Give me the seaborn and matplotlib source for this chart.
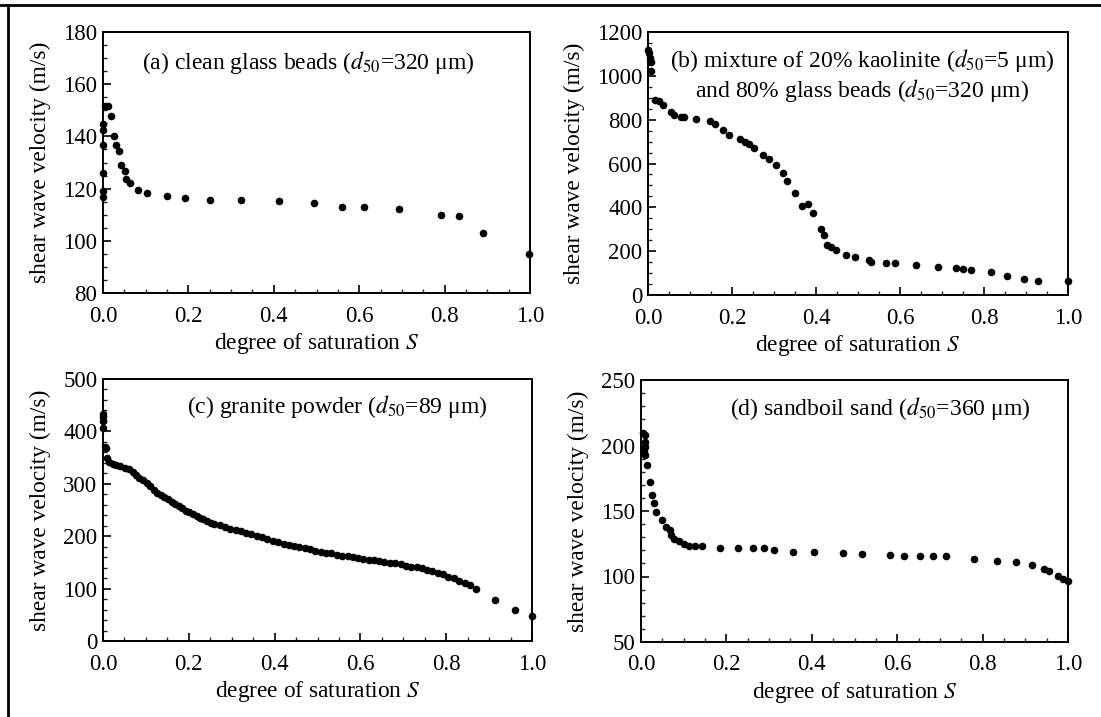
import numpy as np
import pandas as pd
import matplotlib
matplotlib.use("Agg")
import matplotlib.pyplot as plt
from matplotlib.ticker import MultipleLocator, FormatStrFormatter
from matplotlib.lines import Line2D
import seaborn as sns

# ---------------- data ----------------
# (a) clean glass beads
a_S = [0.0, 0.0, 0.0, 0.0, 0.0, 0.0, 0.005, 0.011, 0.018, 0.026, 0.030, 0.038, 0.042,
       0.051, 0.054, 0.063, 0.083, 0.103, 0.150, 0.193, 0.250, 0.323, 0.412, 0.493,
       0.559, 0.611, 0.694, 0.791, 0.833, 0.891, 0.998]
a_V = [144.9, 142.6, 136.6, 126.0, 119.2, 116.7, 151.5, 151.5, 147.9, 140.3, 136.6, 134.3,
       128.9, 126.6, 123.8, 122.3, 119.3, 118.2, 117.0, 116.3, 115.8, 115.8, 115.1, 114.6,
       112.9, 112.9, 112.3, 110.0, 109.5, 102.9, 95.1]

# (b) 20% kaolinite + 80% glass beads
b_S = [0.0, 0.002, 0.004, 0.006, 0.008, 0.016, 0.027, 0.036, 0.055, 0.061, 0.078, 0.085,
       0.114, 0.147, 0.159, 0.179, 0.193, 0.219, 0.230, 0.240, 0.253, 0.274, 0.287, 0.304,
       0.321, 0.331, 0.351, 0.366, 0.382, 0.394, 0.411, 0.419, 0.426, 0.436, 0.447, 0.472,
       0.494, 0.526, 0.532, 0.566, 0.587, 0.638, 0.690, 0.734, 0.751, 0.768, 0.817, 0.855,
       0.896, 0.928, 1.0]
b_V = [1119, 1103, 1081, 1065, 1020, 891, 883, 868, 833, 822, 812, 810, 804, 796, 781, 754,
       731, 711, 700, 688, 670, 640, 621, 591, 556, 521, 464, 408, 416, 373, 300, 274, 228,
       218, 206, 183, 172, 160, 152, 148, 145, 137, 129, 125, 120, 114, 104, 87, 73, 64, 65]

# (c) granite powder
c_S = [0.0, 0.0, 0.0, 0.001, 0.005, 0.008, 0.009, 0.015, 0.023, 0.031, 0.040, 0.052, 0.060,
       0.069, 0.077, 0.085, 0.094, 0.102, 0.110, 0.118, 0.127, 0.135, 0.143, 0.151, 0.160,
       0.168, 0.176, 0.185, 0.193, 0.201, 0.209, 0.218, 0.226, 0.234, 0.243, 0.251, 0.259,
       0.272, 0.284, 0.296, 0.309, 0.321, 0.334, 0.346, 0.358, 0.371, 0.383, 0.396, 0.408,
       0.421, 0.433, 0.445, 0.458, 0.470, 0.483, 0.495, 0.507, 0.520, 0.532, 0.545, 0.557,
       0.570, 0.582, 0.594, 0.607, 0.619, 0.632, 0.644, 0.656, 0.669, 0.681, 0.694, 0.706,
       0.719, 0.731, 0.743, 0.756, 0.768, 0.781, 0.793, 0.805, 0.818, 0.830, 0.843, 0.855,
       0.869, 0.913, 0.960, 1.0]
c_V = [434, 428, 420, 406, 371, 368, 349, 342, 338, 335, 334, 331, 328, 323, 317, 312, 307,
       302, 296, 289, 283, 279, 274, 271, 266, 261, 258, 253, 249, 246, 242, 239, 235, 232,
       229, 226, 224, 221, 218, 214, 211, 209, 206, 204, 201, 198, 195, 191, 189, 186, 184,
       181, 179, 177, 175, 172, 170, 168, 167, 165, 163, 162, 160, 158, 156, 155, 154, 152,
       151, 149, 148, 146, 144, 142, 141, 139, 136, 133, 130, 127, 123, 120, 115, 111, 106,
       99, 78, 60, 48]

# (d) sandboil sand
d_S = [0.004, 0.010, 0.010, 0.010, 0.008, 0.010, 0.013, 0.021, 0.025, 0.031, 0.036, 0.049,
       0.059, 0.067, 0.071, 0.078, 0.088, 0.101, 0.113, 0.126, 0.143, 0.184, 0.226, 0.262,
       0.288, 0.312, 0.356, 0.404, 0.474, 0.518, 0.583, 0.616, 0.654, 0.683, 0.714, 0.780,
       0.834, 0.878, 0.915, 0.943, 0.956, 0.977, 0.989, 1.0]
d_V = [209.3, 208.0, 203.0, 199.0, 196.0, 193.0, 185.0, 172.5, 162.3, 156.0, 149.0, 143.0,
       138.0, 135.6, 132.0, 129.0, 127.0, 124.7, 123.4, 123.0, 123.0, 122.0, 122.0, 121.5,
       121.5, 120.4, 119.0, 119.0, 117.8, 117.0, 116.5, 116.0, 116.0, 115.5, 115.5, 113.0,
       112.0, 110.8, 108.8, 106.0, 103.9, 100.6, 98.0, 96.3]

titles = [
    "(a) clean glass beads ($d_{50}$=320 \u03bcm)",
    "(b) mixture of 20% kaolinite ($d_{50}$=5 \u03bcm)\nand 80% glass beads ($d_{50}$=320 \u03bcm)",
    "(c) granite powder ($d_{50}$=89 \u03bcm)",
    "(d) sandboil sand ($d_{50}$=360 \u03bcm)",
]
y_limits = [(80, 180), (0, 1200), (0, 500), (50, 250)]
y_major = [20, 200, 100, 50]
y_minor = [5, 50, 20, 10]
x_label = "degree of saturation $S$"
y_label = "shear wave velocity (m/s)"

# ---------------- style ----------------
sns.set_theme(style="ticks")
plt.rcParams["font.family"] = ["Liberation Serif", "DejaVu Serif"]
plt.rcParams["mathtext.fontset"] = "stix"
plt.rcParams["axes.edgecolor"] = "black"
plt.rcParams["axes.linewidth"] = 1.4

fig = plt.figure(figsize=(11.01, 7.17), dpi=100)
fig.patch.set_facecolor("white")

rects = [
    (103 / 1101, 1 - 293 / 717, 427 / 1101, 261 / 717),
    (648 / 1101, 1 - 295 / 717, 420 / 1101, 263 / 717),
    (103 / 1101, 1 - 641 / 717, 429 / 1101, 262 / 717),
    (641 / 1101, 1 - 642 / 717, 427 / 1101, 262 / 717),
]
title_pos = [(0.48, 0.885), (0.51, 0.835), (0.545, 0.895), (0.56, 0.89)]

datasets = [(a_S, a_V), (b_S, b_V), (c_S, c_V), (d_S, d_V)]

for i, (S, V) in enumerate(datasets):
    ax = fig.add_axes(rects[i])
    df = pd.DataFrame({"S": S, "V": V})
    sns.scatterplot(data=df, x="S", y="V", ax=ax, color="black", s=30,
                    edgecolor="black", linewidth=0, clip_on=False, zorder=3)
    ax.set_xlim(0, 1.0)
    ax.set_ylim(*y_limits[i])
    ax.xaxis.set_major_locator(MultipleLocator(0.2))
    ax.xaxis.set_minor_locator(MultipleLocator(0.05))
    ax.xaxis.set_major_formatter(FormatStrFormatter("%.1f"))
    ax.yaxis.set_major_locator(MultipleLocator(y_major[i]))
    ax.yaxis.set_minor_locator(MultipleLocator(y_minor[i]))
    ax.tick_params(axis="both", which="major", direction="in", length=6, width=1.2,
                   labelsize=16.5, colors="black", top=False, right=False)
    ax.tick_params(axis="x", which="major", pad=9)
    ax.tick_params(axis="y", which="major", pad=4)
    ax.tick_params(axis="both", which="minor", direction="in", length=3, width=1.0,
                   top=False, right=False)
    ax.set_xlabel(x_label, fontsize=16.8, color="black", labelpad=3)
    ax.set_ylabel(y_label, fontsize=16.8, color="black", labelpad=9)
    for sp in ax.spines.values():
        sp.set_visible(True)
        sp.set_color("black")
    ax.set_facecolor("white")
    ax.text(title_pos[i][0], title_pos[i][1], titles[i], transform=ax.transAxes,
            ha="center", va="center", fontsize=17, color="black", linespacing=1.15)

# page frame lines (top and left)
fig.add_artist(Line2D([0, 1], [1 - 5 / 717, 1 - 5 / 717], transform=fig.transFigure,
                      color="black", linewidth=2))
fig.add_artist(Line2D([8 / 1101, 8 / 1101], [0, 1 - 5 / 717], transform=fig.transFigure,
                      color="black", linewidth=2))

fig.savefig("out.png", dpi=100, facecolor="white")
